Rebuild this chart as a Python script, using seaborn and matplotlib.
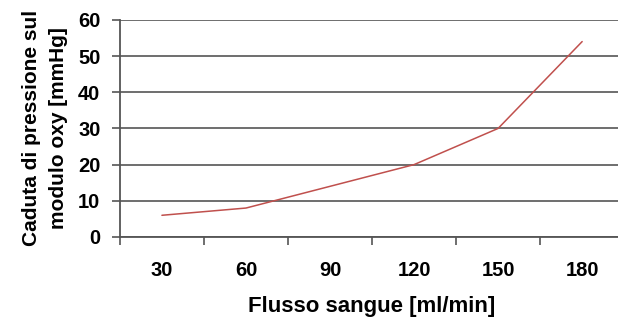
import numpy as np
import pandas as pd
import matplotlib
matplotlib.use('Agg')
import matplotlib.pyplot as plt
import seaborn as sns

# Dati
flusso = ['30', '60', '90', '120', '150', '180']
caduta = [6, 8, 14, 20, 30, 54]

df = pd.DataFrame({'Flusso': flusso, 'Caduta': caduta})

sns.set_style('white')
plt.rcParams['font.family'] = ['Liberation Sans', 'DejaVu Sans']
plt.rcParams['font.weight'] = 'bold'
plt.rcParams['text.color'] = 'black'
plt.rcParams['axes.labelcolor'] = 'black'
plt.rcParams['xtick.color'] = 'black'
plt.rcParams['ytick.color'] = 'black'

fig = plt.figure(figsize=(6.18, 3.31), dpi=100)
ax = fig.add_axes([0.194, 0.284, 0.816, 0.656])

sns.lineplot(data=df, x='Flusso', y='Caduta', color='#c0504d', linewidth=1.1, ax=ax)

ax.set_xlim(-0.5, 5.5)
ax.set_ylim(0, 60)
ax.set_yticks(range(0, 61, 10))
ax.yaxis.grid(True, color='#6e6e6e', linewidth=1.4)
ax.xaxis.grid(False)

for s in ['top', 'right']:
    ax.spines[s].set_visible(False)
for s in ['left', 'bottom']:
    ax.spines[s].set_color('#555555')
    ax.spines[s].set_linewidth(1.3)

# tacche tra le categorie, etichette al centro
ax.set_xticks(np.arange(-0.5, 6.0, 1.0), minor=True)
ax.tick_params(axis='x', which='major', bottom=True, length=0, pad=17, labelsize=14.5)
ax.tick_params(axis='x', which='minor', bottom=True, length=6, width=1.2, color='#555555', direction='out')
ax.tick_params(axis='y', left=True, length=6, width=1.2, color='#555555', direction='out', labelsize=14.5, pad=8)

ax.set_xlabel('Flusso sangue [ml/min]', fontsize=16, fontweight='bold', labelpad=12)
ax.set_ylabel('Caduta di pressione sul\nmodulo oxy [mmHg]', fontsize=15, fontweight='bold',
              labelpad=7, linespacing=1.55)

fig.savefig('out.png', dpi=100, facecolor='white')
